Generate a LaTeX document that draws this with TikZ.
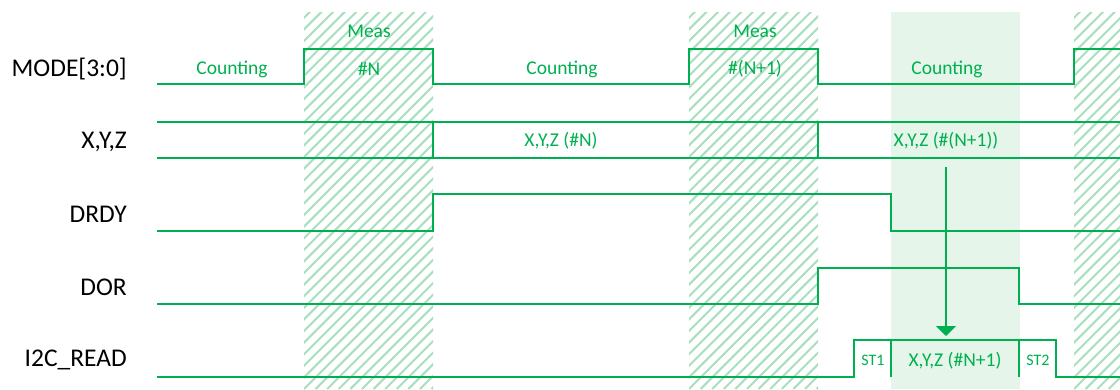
\documentclass[tikz,border=0pt]{standalone}
\usepackage{fontspec}
\setmainfont{Carlito}
\usetikzlibrary{arrows.meta}
\definecolor{sig}{HTML}{00B050}
\definecolor{hatchc}{HTML}{A8DFBC}
\definecolor{soft}{HTML}{E5F5EA}
\tikzset{
  wave/.style={draw=sig, line width=2pt, line join=miter},
  hatch/.style={draw=hatchc, line width=2pt},
  siglabel/.style={anchor=east, font=\fontsize{25.5}{25.5}\selectfont, text=black, inner sep=0pt},
  wtext/.style={font=\fontsize{19.5}{19.5}\selectfont, text=sig, inner sep=0pt},
  stext/.style={font=\fontsize{16}{16}\selectfont, text=sig, inner sep=0pt},
  flow/.style={draw=sig, line width=2pt, -{Triangle[width=20pt,length=10pt]}}
}
\begin{document}
\begin{tikzpicture}[x=1pt,y=-1pt]
\useasboundingbox (0,0) rectangle (1120,389);
% highlighted read window
\fill[soft] (891,12) rectangle (1020,389);
% hatched measurement windows
\foreach \xa/\xb in {304/433, 689/818, 1074/1120}{
  \begin{scope}
    \clip (\xa,12) rectangle (\xb,389);
    \foreach \k in {-36,...,12}{
      \draw[hatch] (\xa+\k*11.6,389) -- ++(400,-400);
    }
  \end{scope}
}
% signal names
\node[siglabel] (lmode) at (127,69) {MODE[3:0]};
\node[siglabel] (lxyz) at (127,142) {X,Y,Z};
\node[siglabel] (ldrdy) at (127,214) {DRDY};
\node[siglabel] (ldor) at (127,287) {DOR};
\node[siglabel] (li2c) at (127,360) {I2C\_READ};
% MODE
\draw[wave] (157,84.3) -- (304,84.3) -- (304,49) -- (433,49) -- (433,84.3) -- (689,84.3) -- (689,49) -- (818,49) -- (818,84.3) -- (1074,84.3) -- (1074,49) -- (1121,49);
\node[wtext] (m1) at (232,69) {Counting};
\node[wtext] (m2) at (369,31) {Meas};
\node[wtext] (m3) at (369,69) {\#N};
\node[wtext] (m4) at (562,69) {Counting};
\node[wtext] (m5) at (755,31) {Meas};
\node[wtext] (m6) at (755,69) {\#(N+1)};
\node[wtext] (m7) at (947,69) {Counting};
% X,Y,Z bus
\draw[wave] (157,121.7) -- (1121,121.7);
\draw[wave] (157,157.7) -- (1121,157.7);
\draw[wave] (433,121.7) -- (433,157.7);
\draw[wave] (818,121.7) -- (818,157.7);
\node[wtext] (x1) at (561,141) {X,Y,Z (\#N)};
\node[wtext] (x2) at (946,141) {X,Y,Z (\#(N+1))};
% DRDY
\draw[wave] (157,231) -- (433,231) -- (433,194.3) -- (891,194.3) -- (891,231) -- (1121,231);
% DOR
\draw[wave] (157,304) -- (818,304) -- (818,267.7) -- (1019,267.7) -- (1019,304) -- (1121,304);
% I2C_READ
\draw[wave] (157,376.7) -- (854,376.7) -- (854,340.3) -- (1056,340.3) -- (1056,376.7) -- (1121,376.7);
\draw[wave] (891,340.3) -- (891,376.7);
\draw[wave] (1019,340.3) -- (1019,376.7);
\node[stext] (s1) at (873,360) {ST1};
\node[wtext] (s2) at (955,361) {X,Y,Z (\#N+1)};
\node[stext] (s3) at (1038,360) {ST2};
% read arrow
\coordinate (afrom) at (946,166.7);
\coordinate (ato) at (946,336);
\draw[flow] (afrom) -- (ato);
\end{tikzpicture}
\end{document}
